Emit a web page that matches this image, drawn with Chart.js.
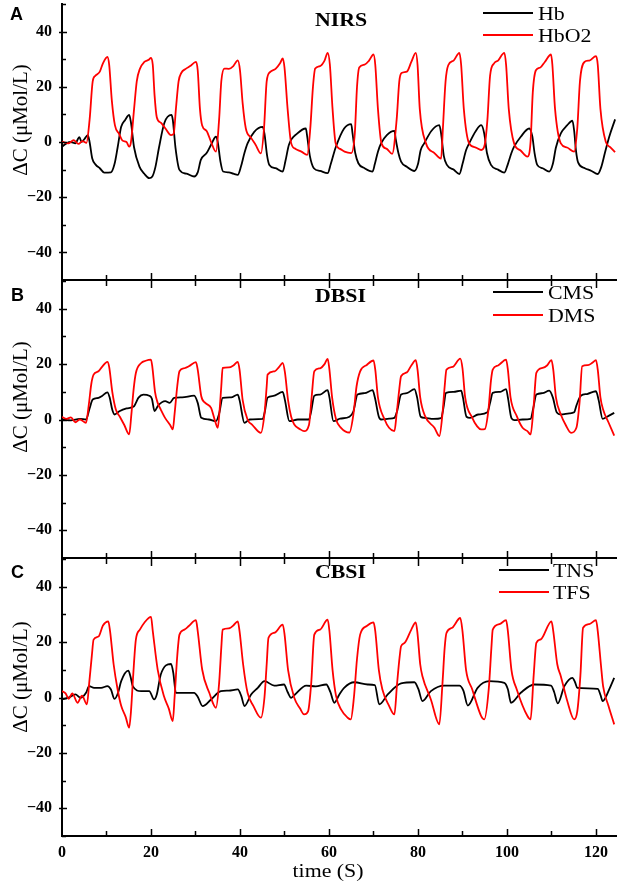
<!DOCTYPE html>
<html>
<head>
<meta charset="utf-8">
<script src="https://cdn.jsdelivr.net/npm/chart.js@4.4.1/dist/chart.umd.min.js"></script>
<style>
html, body { margin: 0; padding: 0; background: #fff; }
#wrap { position: relative; width: 624px; height: 885px; overflow: hidden; }
canvas { position: absolute; left: 0; }
.t { position: absolute; white-space: nowrap; line-height: 1; color: #000; }
.panel { font: bold 18px "Liberation Sans", Arial, sans-serif; }
.title { font: bold 19px "Liberation Serif", "Times New Roman", serif; transform-origin: left center; transform: scaleX(1.15); }
.leg { font: 19px "Liberation Serif", "Times New Roman", serif; transform-origin: left center; transform: scaleX(1.15); }
.key { position: absolute; height: 0; border-top: 2px solid; width: 50px; }
.ytitle { font: 21px "Liberation Serif", "Times New Roman", serif; transform: translate(-50%, -50%) rotate(-90deg); }
.xtitle { font: 19px "Liberation Serif", "Times New Roman", serif; transform: translate(-50%, -50%) scaleX(1.15); }
</style>
</head>
<body>
<div id="wrap">
  <canvas id="cA" width="624" height="290" style="top:0px"></canvas>
  <canvas id="cB" width="624" height="290" style="top:275px"></canvas>
  <canvas id="cC" width="624" height="332" style="top:553px"></canvas>

  <div class="t panel" style="left:10px;top:4px">A</div>
  <div class="t panel" style="left:11px;top:285px">B</div>
  <div class="t panel" style="left:11px;top:562px">C</div>

  <div class="t title" style="left:315px;top:9px">NIRS</div>
  <div class="t title" style="left:315px;top:285px">DBSI</div>
  <div class="t title" style="left:315px;top:561px">CBSI</div>

  <div class="key" style="left:483px;top:12px;border-color:#000"></div>
  <div class="t leg" style="left:538px;top:3px">Hb</div>
  <div class="key" style="left:483px;top:34px;border-color:#ff0000"></div>
  <div class="t leg" style="left:538px;top:25px">HbO2</div>

  <div class="key" style="left:493px;top:291px;border-color:#000"></div>
  <div class="t leg" style="left:548px;top:282px">CMS</div>
  <div class="key" style="left:493px;top:314px;border-color:#ff0000"></div>
  <div class="t leg" style="left:548px;top:305px">DMS</div>

  <div class="key" style="left:499px;top:569px;border-color:#000"></div>
  <div class="t leg" style="left:553px;top:560px">TNS</div>
  <div class="key" style="left:499px;top:591px;border-color:#ff0000"></div>
  <div class="t leg" style="left:553px;top:582px">TFS</div>

  <div class="t ytitle" style="left:20px;top:120px">ΔC (μMol/L)</div>
  <div class="t ytitle" style="left:20px;top:397px">ΔC (μMol/L)</div>
  <div class="t ytitle" style="left:20px;top:677px">ΔC (μMol/L)</div>

  <div class="t xtitle" style="left:328px;top:871px">time (S)</div>
</div>

<script>
// tick positions
const xTickVals  = [0, 20, 40, 60, 80, 100, 120];
const xMinorVals = [10, 30, 50, 70, 90, 110];
const yTickVals  = [-40, -20, 0, 20, 40];
const yMinorVals = [-50, -30, -10, 10, 30, 50];

// [time (s), value]
const hbo2 = [[0,0.1],[1.5,-0.5],[2.6,0.7],[3.7,-0.7],[4.6,0.3],[5.5,-0.3],[6.2,8],[6.9,22],[7.5,24],[8.5,25.5],[9.2,28.5],[10.2,30.8],[10.6,28],[11.2,15],[11.9,6],[12.8,3],[13.6,0.5],[14.5,0],[15.1,-1.7],[15.5,0],[16.2,12],[16.8,22],[17.5,26.5],[18.5,29],[19.5,29.8],[20,30.5],[20.4,28],[20.8,17],[21.3,9],[22.2,7],[23.2,5],[24.5,2.5],[25.1,3],[25.6,12],[26.2,22],[26.8,25],[27.8,26.5],[28.8,27.5],[30.1,29],[30.5,26],[31,12],[31.5,6],[32.5,4],[33.5,0],[34.6,-3.5],[35.3,8],[35.8,22],[36.5,26.6],[37.5,26.5],[38.5,27.5],[39.5,29.6],[40,26],[40.6,14],[41.3,5],[42.5,1.5],[43.5,-1],[44.7,-4.1],[45.4,5],[46,22],[46.8,25.4],[48,26.5],[49,28.5],[49.6,30.3],[50,27],[50.7,12],[51.5,-0.4],[52.5,-2.5],[53.8,-3.5],[55.1,-4.7],[55.8,5],[56.4,20],[56.9,26.6],[58,27.5],[59,29.5],[59.7,32.3],[60.2,28],[60.8,12],[61.5,-0.5],[62.5,-2.5],[63.5,-3.5],[65,-4],[65.8,3],[66.3,20],[66.8,27],[68,28],[69,29.5],[70,31.7],[70.4,28],[71,12],[71.8,-0.5],[73,-2.5],[74.2,-4.3],[75.2,8],[75.8,22],[76.3,25],[77.5,25.5],[78.5,29],[79.5,32.3],[79.9,28],[80.4,12],[81.8,-0.5],[83.7,-4],[85.2,-6],[85.6,5],[86.2,22],[86.8,27.8],[88,29.5],[89.3,32.3],[89.7,28],[90.3,12],[91.5,-0.5],[93,-2],[94.2,-2.9],[95,-1],[95.6,8],[96.2,24],[97.1,28.5],[98,29.5],[99.4,32.3],[99.8,28],[100.4,12],[101.6,-0.5],[103,-3],[104.6,-5.3],[105.3,0],[105.8,18],[106.5,26],[107.5,27],[108.5,29],[109.9,31.7],[110.2,28],[110.8,12],[112.1,-0.5],[113.5,-2],[115.1,-3.5],[115.8,5],[116.4,22],[117.4,29],[118.5,29.5],[120,31.1],[120.4,28],[121,12],[122.2,0.1],[123.3,-2],[124.3,-3.7]];

const hb = [[0,-1.7],[1,-0.5],[2,0],[3,-0.5],[3.9,1.8],[4.4,0],[5,1],[5.8,2.5],[6.2,0],[6.8,-6],[7.6,-8.3],[8.5,-9.5],[9.5,-11.1],[11,-11],[11.8,-8],[12.5,-2],[13.3,5.5],[14.2,8],[15.1,9.8],[15.5,7],[16.2,-2],[17.4,-8.9],[18.5,-11.5],[19.6,-13.1],[20.3,-12.5],[21,-9],[21.8,-2],[23,6.9],[24.6,9.8],[24.9,8],[25.5,-2],[26.4,-10.1],[28,-11.5],[29.7,-12.5],[30.5,-11],[31.2,-6.5],[32.5,-4],[33.5,-1],[34.6,1.9],[35,0],[35.6,-7],[36.2,-10.7],[37.5,-11],[38.5,-11.5],[39.5,-11.9],[40.2,-9],[41,-4],[41.7,-0.5],[43.2,3.7],[45.1,5.5],[45.5,3],[46.1,-5],[46.6,-8.3],[48,-9.5],[49.6,-10.7],[50.2,-7],[51,-1],[52.9,3.1],[54.8,4.9],[55.1,2],[55.7,-5],[56.6,-9.5],[58,-10.5],[59.7,-11.3],[60.4,-8],[61.5,-2],[63.4,4.9],[65,6.5],[65.3,3],[65.9,-4],[66.6,-7.7],[68,-9.5],[69.8,-10.7],[70.3,-8],[71,-3.5],[71.7,-0.5],[73,2.5],[74.7,4],[75,1],[75.6,-4],[76.2,-7.1],[77.5,-9],[79.2,-10.5],[80,-8],[80.6,-3],[81.4,-0.5],[83,4],[84.8,6.1],[85.2,3],[85.8,-5],[86.5,-8.3],[88,-10],[89.3,-11.6],[90,-8],[90.8,-3],[91.5,-0.5],[93,4],[94.2,6.1],[94.9,3],[95.5,-4],[96.4,-8.3],[98,-10],[99.4,-11.1],[100.2,-8],[101,-4],[101.6,-1.7],[103.1,1.9],[105,4.9],[105.7,2],[106.2,-4],[106.8,-8.3],[108,-9.5],[109.5,-10.7],[110.3,-8],[111,-2],[112.1,3.1],[113.5,6],[114.7,7.7],[115.1,4],[115.5,-3],[116,-7.5],[117.5,-9.5],[119,-10.5],[120.4,-11.6],[121.2,-9],[122,-4],[123,2],[124.3,8.2]];

const dms = [[0,1],[1,0.2],[2,0.8],[3,-1],[4,0],[5.4,-1.2],[6,5],[6.6,13],[7.1,16.2],[8.2,17.4],[9,19],[10.2,20.8],[10.6,19],[11.3,10],[12.1,3.6],[13,1],[14,-2],[15.1,-5.4],[15.6,2],[16.1,11],[16.6,16.8],[17.8,20.4],[18.8,21.2],[20,21.6],[20.3,19],[20.9,10],[21.5,6],[22.2,3.6],[23.2,0.5],[24.3,-2],[24.9,-3.6],[25.3,2],[25.9,12],[26.4,17.4],[27.5,18.5],[28.5,19.2],[30.1,20.7],[30.5,18],[31.3,8.4],[32.2,6],[33.5,4.2],[34.3,0],[35,-3],[35.4,3],[35.8,12],[36.1,18.6],[37.5,18.8],[38.5,19.5],[39.5,20.8],[39.9,18],[40.6,7],[41.7,0],[42.8,-2],[44.7,-4.8],[45.5,2],[46,12],[46.2,16.2],[47.8,17.4],[48.8,19],[49.6,20.4],[50.1,17],[50.8,7],[51.5,1],[52.2,-1.8],[53.5,-3.5],[54.4,-4.2],[55.5,-2],[56.1,8],[56.7,17.4],[58,18.5],[59,20],[59.7,21.9],[60.1,18],[60.7,8],[61.6,0],[62.7,-3],[64.6,-4.7],[65.5,2],[66.2,12],[67,17.4],[68.5,19.7],[70,21.3],[70.4,18],[71,8],[72.5,0],[73.5,-3],[74.7,-4.2],[75.2,2],[75.8,11],[76.2,15.6],[77.5,17],[78.5,19.5],[79.5,21.4],[79.9,18],[80.5,8],[81.6,1.2],[83.7,-3],[84.8,-6],[85.5,2],[86,12],[86.4,18],[87.8,19],[89.5,22],[90,18.5],[90.6,8],[92.2,0.6],[93.3,-2.5],[94.2,-3.6],[95,-3.5],[95.8,3],[96.4,14],[96.8,18],[98,19.5],[99.8,21.6],[100.2,18],[100.8,8],[102.2,1.2],[103.5,-3],[104.6,-4.2],[105.3,-5.4],[106,5],[106.6,16.8],[108,18.6],[109,19.5],[110,21.4],[110.4,18],[111,8],[112.1,1.8],[113.2,-2],[114.4,-4.8],[115.6,-3],[116.3,6],[116.9,19.2],[118.2,19.6],[119.2,20.5],[120,21.4],[120.4,18],[121,8],[121.6,3.6],[122.8,-1],[124.1,-5.8]];

const cms = [[0,0],[2,-0.3],[4,0.2],[5.4,0],[6.2,4],[6.9,7.2],[8.2,7.8],[9,8.5],[10.2,9.8],[10.7,8],[11.3,3.5],[11.8,1.8],[12.9,3],[14.5,4],[16.2,4.8],[16.6,6],[17.2,7.9],[18.3,9],[19.6,8.6],[20.2,7.5],[20.8,3],[21.6,5],[23.2,6.6],[24.2,6],[25.2,7.8],[27,8],[29.7,8.6],[30.5,6],[31.3,0.6],[33,0],[34.6,-0.6],[35.3,2],[36.1,7.8],[38,8],[39.5,9],[39.9,7],[41,-1.2],[42.2,0],[45.1,0.2],[45.6,3],[46.2,7.9],[47.5,8.5],[49.6,10],[50.1,7],[51.1,-0.6],[53,0],[55.5,0],[56,3],[56.7,8.6],[58,9],[59.7,10.6],[60.1,8],[61,-0.6],[62.5,0.3],[64.6,1],[65.5,3],[66.4,9],[68,9.5],[69.8,10.6],[70.3,8],[71.2,1],[71.7,0],[73.5,0.3],[74.7,0.6],[75.3,3],[76.2,9],[77.5,9.5],[79.2,11],[79.8,8],[80.6,1],[81.5,0.6],[83.5,0.2],[85.2,0.5],[85.7,4],[86.3,9.6],[88,10],[89.7,10.4],[90.1,8],[90.9,1],[91.7,0.6],[93.5,1.8],[95.6,2.6],[96.2,6],[96.8,9.6],[98.5,10],[99.8,11],[100.2,8],[101,0.5],[101.6,-0.2],[103.5,0],[105.3,0.2],[105.9,4],[106.6,9],[108,9.5],[109.5,10.4],[110.3,8],[111.2,2.5],[112.1,1.8],[114,2.2],[115.1,2.6],[115.6,5],[116.6,8.6],[118,9.2],[120,10.2],[120.6,7],[121.5,0.2],[122.5,1],[124.1,2.4]];

const tfs = [[0,2.3],[0.8,1.5],[1.5,-0.5],[2.3,1.5],[3.5,-1.9],[4.5,0.7],[5.6,-2.5],[6.1,5],[6.7,15],[7.1,20.9],[8.2,22],[9.2,26],[10.4,27.5],[10.8,24],[11.6,12],[12.5,2.9],[13.3,-3],[14.3,-7],[15.1,-10.9],[15.5,-5],[16,8],[16.6,20.9],[17.5,24.5],[18.5,27],[20,29.1],[20.4,24],[21.5,10.1],[22.9,0.5],[24,-4],[24.9,-8.5],[25.3,0],[25.9,15],[26.4,22.7],[27.5,24.5],[28.5,25.8],[30.1,27.9],[30.5,24],[31.5,10.1],[33.1,1.7],[34.6,-3.7],[35.3,5],[35.8,18],[36.1,24.5],[37.6,25],[38.5,26],[39.5,27.5],[39.9,24],[40.7,12],[41.7,1.7],[43,-3],[44.7,-7.3],[45.5,0],[46,12],[46.4,21.5],[47.8,23.4],[49.6,26.3],[50,23],[50.8,10],[52.2,-0.1],[53.5,-4],[54.4,-6.1],[55.3,-5],[56,5],[56.7,22.7],[58,24.5],[59.7,28.1],[60.1,24],[60.8,10],[61.6,0.5],[62.7,-4.3],[64.2,-7.3],[64.9,-7.9],[65.6,0],[66.3,14],[67,22.7],[68.5,25.8],[70,27.1],[70.4,24],[71.2,10],[72,2.9],[73.5,-3],[74.7,-6.1],[75.3,5],[75.9,15],[76.2,18.5],[77,19.7],[78.5,24.5],[79.5,27.1],[79.9,23],[80.5,12],[81,7.7],[82.9,-0.7],[84.8,-9.7],[85.5,5],[86,18],[86.4,23.3],[87.7,25.2],[89.5,28.7],[90,24],[90.8,10],[92.2,2.9],[94.2,-6.7],[94.9,-7.9],[95.9,3],[96.5,18],[96.8,24.5],[98.3,26.5],[99.8,27.9],[100.2,24],[101,10],[102.2,2.9],[104.6,-6.7],[105.3,-7.9],[106,8],[106.6,19.7],[107.6,21],[110,27.5],[110.4,24],[111.3,12],[112.1,7.7],[113.5,-1],[115.1,-7.9],[115.8,-5],[116.5,8],[117.1,25.2],[118.5,26.5],[120,27.9],[120.4,24],[121.1,12],[121.6,4.1],[122.8,-3],[124.1,-9.7]];

const tns = [[0,-0.7],[1.5,0],[3,1.1],[4.2,-0.1],[5.4,1.7],[6.1,4.1],[7.2,3.5],[8.8,3.5],[10.2,4.1],[11,2.9],[11.8,-0.5],[12.6,1.7],[13.3,5.9],[14.9,9.7],[15.4,7.5],[15.9,4.1],[17.8,2.3],[19.6,2.3],[20.7,-0.7],[21.3,1.1],[22.2,8.3],[24.5,12.1],[25,9],[25.6,1.7],[27.5,1.7],[29.7,1.7],[30.5,0.3],[31.6,-3.1],[33.5,-0.7],[35.7,2.3],[37.5,2.5],[39.5,2.9],[40.3,0.5],[41,-3.1],[42.5,1.1],[44,3.5],[45.5,5.9],[47.7,4.3],[49.9,4.7],[50.7,2],[51.5,-0.1],[52.3,1],[54.9,4.3],[57,4],[59.4,4.7],[60.3,2],[61.2,-1.9],[62.3,1],[63.4,3.5],[65.7,5.5],[68.7,4.7],[70.3,4.5],[71.3,-2.5],[73.2,1.1],[76.2,5.1],[79.2,5.5],[80.1,3],[81,-1.3],[82.9,2.3],[85.9,4.3],[89.3,4.3],[90.2,2.5],[91.2,-2.9],[93.4,3.5],[96,5.9],[99.4,5.3],[100.2,3],[100.9,-1.9],[103.1,1.7],[106.1,4.7],[109.9,4.3],[110.6,2],[111.4,-2.1],[112.9,4.1],[114.7,7.1],[115.3,5.5],[115.8,3.5],[120.4,3.1],[121,1],[121.5,-1.3],[123,3],[124.1,7.1]];

const X_MAX = 124.5;
const FONT = '"Liberation Serif", "Times New Roman", serif';

function pts(arr) {
    return arr.map(p => ({ x: p[0], y: p[1] }));
}

function minusLabel(v) {
    return v < 0 ? '\u2212' + Math.abs(v) : String(v);
}

// no extra room for tick labels: the canvases are laid out by hand
function noPad(s) {
    s.paddingTop = 0; s.paddingBottom = 0; s.paddingLeft = 0; s.paddingRight = 0;
}

// inward tick marks, major every 20 and minor every 10
const innerTicks = {
    id: 'innerTicks',
    afterDraw(chart, args, opts) {
        const { ctx, chartArea: a, scales: { x, y } } = chart;
        ctx.save();
        ctx.strokeStyle = '#000';
        ctx.lineWidth = 1.5;
        ctx.beginPath();
        const xt = (vals, len) => vals.forEach(v => {
            if (v <= 0) return;
            const px = Math.round(x.getPixelForValue(v)) + 0.5;
            ctx.moveTo(px, a.bottom); ctx.lineTo(px, a.bottom - len);
            if (opts.top) { ctx.moveTo(px, a.top); ctx.lineTo(px, a.top + len); }
        });
        xt(xTickVals, 7);
        xt(xMinorVals, 5);
        yTickVals.forEach(v => {
            const py = Math.round(y.getPixelForValue(v)) + 0.5;
            ctx.moveTo(a.left - 3, py); ctx.lineTo(a.left + 5, py);
        });
        yMinorVals.forEach(v => {
            const py = Math.round(y.getPixelForValue(v)) + 0.5;
            ctx.moveTo(a.left, py); ctx.lineTo(a.left + 4, py);
        });
        ctx.stroke();
        ctx.restore();
    }
};

function makePanel(id, black, red, opt) {
    return new Chart(document.getElementById(id), {
        type: 'line',
        data: {
            datasets: [
                { data: pts(red),   borderColor: '#ff0000', borderWidth: 1.8 },
                { data: pts(black), borderColor: '#000000', borderWidth: 1.8 },
            ]
        },
        options: {
            responsive: false,
            animation: false,
            elements: { point: { radius: 0 }, line: { cubicInterpolationMode: 'monotone' } },
            layout: { padding: { left: 0, right: 8, top: opt.padTop, bottom: opt.padBottom } },
            plugins: { legend: { display: false }, tooltip: { enabled: false }, innerTicks: { top: opt.topTicks } },
            scales: {
                x: {
                    type: 'linear',
                    min: 0, max: X_MAX,
                    afterBuildTicks: s => { s.ticks = xTickVals.map(v => ({ value: v })); },
                    afterFit: s => { s.height = opt.xHeight; noPad(s); },
                    grid: { display: true, drawOnChartArea: false, drawTicks: false },
                    border: { display: true, color: '#000', width: 2 },
                    ticks: {
                        display: opt.xLabels,
                        padding: 7,
                        color: '#000',
                        font: { family: FONT, size: 16, weight: 'bold' },
                    }
                },
                y: {
                    min: -50, max: 50,
                    afterBuildTicks: s => { s.ticks = yTickVals.map(v => ({ value: v })); },
                    afterFit: s => { s.width = 62; noPad(s); },
                    grid: { display: true, drawOnChartArea: false, drawTicks: false },
                    border: { display: true, color: '#000', width: 2 },
                    ticks: {
                        padding: 10,
                        color: '#000',
                        font: { family: FONT, size: 16, weight: 'bold' },
                        callback: v => minusLabel(v),
                    }
                }
            }
        },
        plugins: [innerTicks]
    });
}

makePanel('cA', hb,  hbo2, { padTop: 4, padBottom: 10, xHeight: 0,  xLabels: false, topTicks: false });
makePanel('cB', cms, dms,  { padTop: 6, padBottom: 7,  xHeight: 0,  xLabels: false, topTicks: true });
makePanel('cC', tns, tfs,  { padTop: 6, padBottom: 19, xHeight: 30, xLabels: true,  topTicks: true });
</script>
</body>
</html>
